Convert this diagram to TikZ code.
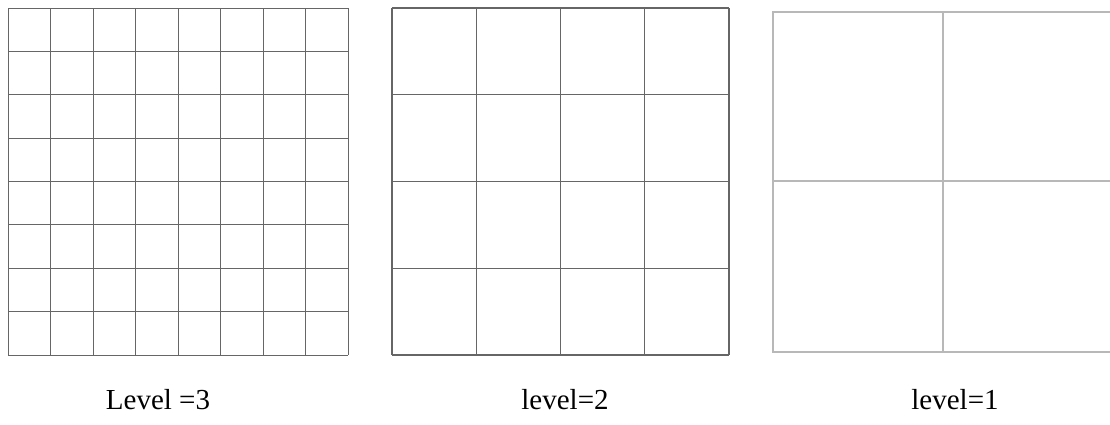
\documentclass[tikz,border=0pt]{standalone}
\usepackage{fontspec}
\setmainfont{Liberation Serif}
\begin{document}
\begin{tikzpicture}[x=1pt, y=1pt,
    lineaTres/.style={line width=0.9pt, black!60},
    lineaDos/.style={line width=1.1pt, black!60},
    lineaUno/.style={line width=2pt, black!28},
    etiqueta/.style={font=\fontsize{29}{33}\selectfont, inner sep=0pt}]
    \useasboundingbox (0,0) rectangle (1110,425);

    % Malla de nivel 3 (8x8)
    \foreach \i in {0,...,8} {
        \draw[lineaTres] (8+\i*42.5,70) -- (8+\i*42.5,417);
        \draw[lineaTres] (8,70+\i*43.375) -- (348,70+\i*43.375);
    }

    % Malla de nivel 2 (4x4)
    \foreach \i in {0,...,4} {
        \draw[lineaDos] (392+\i*84.25,70) -- (392+\i*84.25,417);
        \draw[lineaDos] (392,70+\i*86.75) -- (729,70+\i*86.75);
    }

    % Malla de nivel 1 (2x2), cortada a la derecha
    \draw[lineaUno] (1110,413) -- (773,413) -- (773,73) -- (1110,73);
    \draw[lineaUno] (943,413) -- (943,73);
    \draw[lineaUno] (773,244) -- (1110,244);

    % Etiquetas
    \node[etiqueta] (nivelTres) at (158,25) {Level =3};
    \node[etiqueta] (nivelDos) at (565,25) {level=2};
    \node[etiqueta] (nivelUno) at (955,25) {level=1};
\end{tikzpicture}
\end{document}
